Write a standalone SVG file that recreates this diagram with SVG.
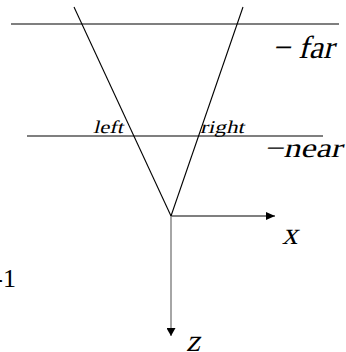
<svg xmlns="http://www.w3.org/2000/svg" width="346" height="352" viewBox="0 0 346 352">
<style>
.ln{stroke:#000;stroke-width:1.1;fill:none}
.t{font-family:Liberation Serif,serif;fill:#000}
</style>
<defs>
<marker id="ah" markerWidth="9" markerHeight="8" refX="9" refY="4" orient="auto" markerUnits="userSpaceOnUse"><path d="M0,0 L9,4 L0,8 Z" fill="#000"/></marker>
<marker id="ahg" markerWidth="8" markerHeight="9" refX="8" refY="4.5" orient="auto" markerUnits="userSpaceOnUse"><path d="M0,0 L8,4.5 L0,9 Z" fill="#000"/></marker>
</defs>
<g id="connectors">
<line class="ln" x1="11" y1="24" x2="339" y2="24"/>
<line class="ln" x1="27" y1="136" x2="323" y2="136"/>
<line class="ln" x1="74" y1="7" x2="171" y2="216"/>
<line class="ln" x1="243" y1="7" x2="171" y2="216"/>
<line class="ln" x1="171" y1="216" x2="275" y2="216" marker-end="url(#ah)"/>
<line x1="171" y1="216" x2="171" y2="336" stroke="#808080" stroke-width="1.4" marker-end="url(#ahg)"/>
</g>
<g id="labels">
<text class="t" transform="translate(272,58) skewX(-14)" font-size="32">− far</text>
<text class="t" transform="translate(264,157) skewX(-14)" font-size="27" textLength="78" lengthAdjust="spacingAndGlyphs">−near</text>
<text class="t" transform="translate(93,133) skewX(-14)" font-size="18" textLength="30" lengthAdjust="spacingAndGlyphs">left</text>
<text class="t" transform="translate(200,133) skewX(-14)" font-size="18" textLength="44" lengthAdjust="spacingAndGlyphs">right</text>
<text class="t" transform="translate(282,244) skewX(-14)" font-size="31">x</text>
<text class="t" transform="translate(186,351) skewX(-14)" font-size="31">z</text>
<text class="t" x="16" y="287" font-size="26" text-anchor="end">-1</text>
</g>
</svg>
